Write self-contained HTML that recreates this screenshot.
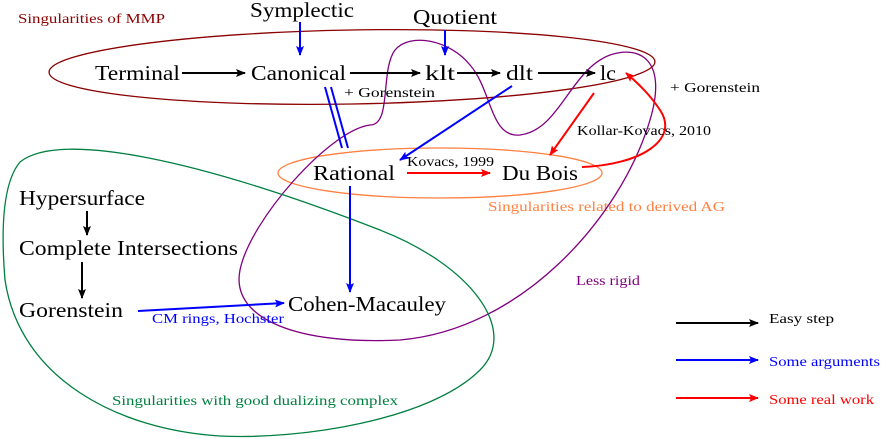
<!DOCTYPE html>
<html><head><meta charset="utf-8"><style>
body{margin:0;background:#fff}
svg{display:block}
text{font-family:"Liberation Serif",serif}
</style></head><body>
<svg width="884" height="439" viewBox="0 0 884 439">
<defs>
<marker id="ak" markerWidth="10" markerHeight="8" refX="9" refY="4" orient="auto" markerUnits="userSpaceOnUse"><path d="M0,0 L10,4 L0,8 L2,4 Z" fill="#000"/></marker>
<marker id="ab" markerWidth="10" markerHeight="8" refX="9" refY="4" orient="auto" markerUnits="userSpaceOnUse"><path d="M0,0 L10,4 L0,8 L2,4 Z" fill="#0000ff"/></marker>
<marker id="ar" markerWidth="10" markerHeight="8" refX="9" refY="4" orient="auto" markerUnits="userSpaceOnUse"><path d="M0,0 L10,4 L0,8 L2,4 Z" fill="#ff0000"/></marker>
</defs>

<ellipse cx="352" cy="67" rx="303" ry="37" fill="none" stroke="#8b0000" stroke-width="1.3" transform="rotate(-1 352 67)"/>
<text x="18" y="23" font-size="14" fill="#8b0000" textLength="147" lengthAdjust="spacingAndGlyphs">Singularities of MMP</text>
<ellipse cx="440" cy="173" rx="162" ry="25" fill="none" stroke="#ff8040" stroke-width="1.3"/>
<text x="488" y="211" font-size="14" fill="#ff8040" textLength="237" lengthAdjust="spacingAndGlyphs">Singularities related to derived AG</text>
<path d="M370 125 C330 130,250 220,240 270 C230 320,300 345,400 340 C520 330,620 220,650 120 C668 60,640 45,610 55 C570 70,560 130,520 135 C490 138,492 90,470 65 C450 40,410 32,395 50 C380 70,392 125,370 125 Z" fill="none" stroke="#800080" stroke-width="1.3"/>
<text x="576" y="285" font-size="14" fill="#800080" textLength="64" lengthAdjust="spacingAndGlyphs">Less rigid</text>
<path d="M20 162 C60 130,200 160,380 230 C470 265,520 330,480 370 C430 420,300 440,220 436 C120 430,20 380,5 280 C0 220,5 180,20 162 Z" fill="none" stroke="#008040" stroke-width="1.3"/>
<text x="112" y="405" font-size="14" fill="#008040" textLength="286" lengthAdjust="spacingAndGlyphs">Singularities with good dualizing complex</text>

<g font-size="21" fill="#000">
<text x="250" y="17" textLength="104" lengthAdjust="spacingAndGlyphs">Symplectic</text>
<text x="413" y="24" textLength="84" lengthAdjust="spacingAndGlyphs">Quotient</text>
<text x="95" y="80" textLength="85" lengthAdjust="spacingAndGlyphs">Terminal</text>
<text x="251" y="80" textLength="95" lengthAdjust="spacingAndGlyphs">Canonical</text>
<text x="425" y="80" textLength="30" lengthAdjust="spacingAndGlyphs">klt</text>
<text x="506" y="80" textLength="27" lengthAdjust="spacingAndGlyphs">dlt</text>
<text x="600" y="80" textLength="16" lengthAdjust="spacingAndGlyphs">lc</text>
<text x="313" y="180" textLength="82" lengthAdjust="spacingAndGlyphs">Rational</text>
<text x="502" y="180" textLength="76" lengthAdjust="spacingAndGlyphs">Du Bois</text>
<text x="288" y="311" textLength="158" lengthAdjust="spacingAndGlyphs">Cohen-Macauley</text>
<text x="19" y="205" textLength="126" lengthAdjust="spacingAndGlyphs">Hypersurface</text>
<text x="19" y="255" textLength="219" lengthAdjust="spacingAndGlyphs">Complete Intersections</text>
<text x="19" y="317" textLength="104" lengthAdjust="spacingAndGlyphs">Gorenstein</text>
</g>

<g stroke="#000" stroke-width="2" marker-end="url(#ak)">
<line x1="182" y1="73" x2="245" y2="73"/>
<line x1="350" y1="73" x2="420" y2="73"/>
<line x1="457" y1="73" x2="500" y2="73"/>
<line x1="538" y1="73" x2="595" y2="73"/>
<line x1="87" y1="211" x2="87" y2="235"/>
<line x1="82" y1="262" x2="82" y2="298"/>
</g>
<g stroke="#0000ff" stroke-width="2" marker-end="url(#ab)">
<line x1="300" y1="22" x2="300" y2="55"/>
<line x1="445" y1="30" x2="445" y2="55"/>
<line x1="512" y1="86" x2="400" y2="160"/>
<line x1="350" y1="186" x2="350" y2="292"/>
<line x1="138" y1="311" x2="284" y2="303"/>
</g>
<g stroke="#0000ff" stroke-width="2">
<line x1="325" y1="87" x2="342" y2="148"/>
<line x1="331" y1="87" x2="348" y2="148"/>
</g>
<g stroke="#ff0000" stroke-width="2" fill="none" marker-end="url(#ar)">
<line x1="407" y1="173" x2="490" y2="173"/>
<line x1="594" y1="93" x2="550" y2="155"/>
<path d="M582 167 C640 165,680 140,660 110 C650 95,640 85,626 73"/>
</g>

<g font-size="14" fill="#000">
<text x="344" y="97" textLength="91" lengthAdjust="spacingAndGlyphs">+ Gorenstein</text>
<text x="670" y="92" textLength="90" lengthAdjust="spacingAndGlyphs">+ Gorenstein</text>
<text x="577" y="135" textLength="134" lengthAdjust="spacingAndGlyphs">Kollar-Kovacs, 2010</text>
<text x="407" y="166" textLength="87" lengthAdjust="spacingAndGlyphs">Kovacs, 1999</text>
</g>
<text x="152" y="323" font-size="14" fill="#0000ff" textLength="132" lengthAdjust="spacingAndGlyphs">CM rings, Hochster</text>

<g>
<line x1="676" y1="323" x2="758" y2="323" stroke="#000" stroke-width="2" marker-end="url(#ak)"/>
<text x="769" y="323" font-size="14" textLength="65" lengthAdjust="spacingAndGlyphs">Easy step</text>
<line x1="676" y1="360" x2="758" y2="360" stroke="#0000ff" stroke-width="2" marker-end="url(#ab)"/>
<text x="769" y="366" font-size="14" fill="#0000ff" textLength="111" lengthAdjust="spacingAndGlyphs">Some arguments</text>
<line x1="676" y1="398" x2="758" y2="398" stroke="#ff0000" stroke-width="2" marker-end="url(#ar)"/>
<text x="769" y="404" font-size="14" fill="#ff0000" textLength="105" lengthAdjust="spacingAndGlyphs">Some real work</text>
</g>
</svg>
</body></html>
